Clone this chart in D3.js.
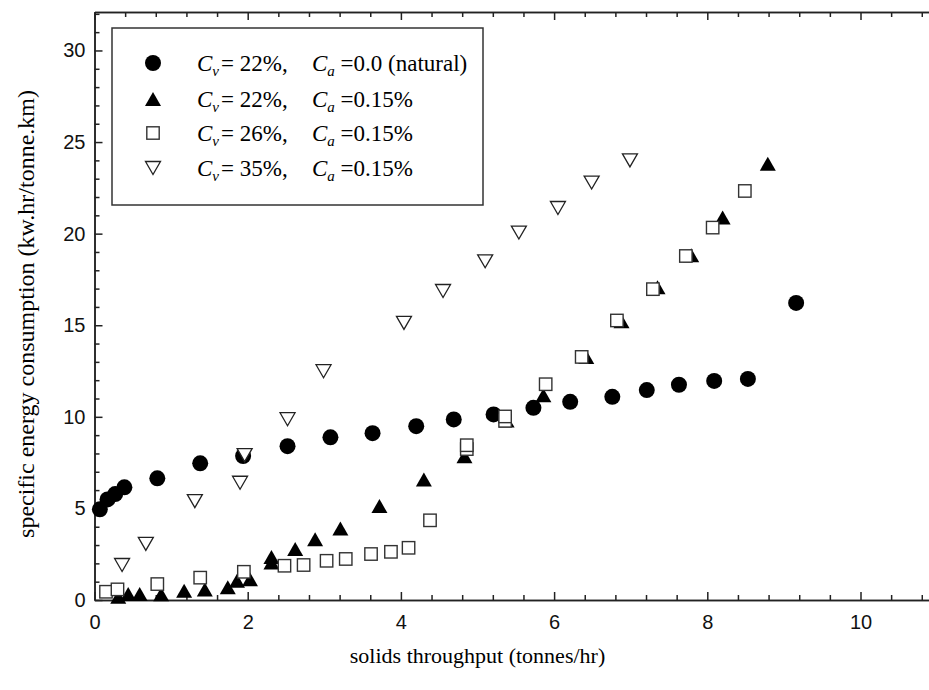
<!DOCTYPE html>
<html>
<head>
<meta charset="utf-8">
<script src="https://cdn.jsdelivr.net/npm/d3@7"></script>
<style>
  body { margin: 0; background: #fff; }
  svg { display: block; }
  .tick text { font-family: "Liberation Sans", Arial, sans-serif; font-size: 20px; fill: #111; }
  .axis path, .axis line { stroke: #222; stroke-width: 1.5; }
</style>
</head>
<body>
<div id="chart"></div>
<script>
// solids throughput (tonnes/hr) vs specific energy consumption (kw.hr/tonne.km)
const cv22Natural = [
    [0.07, 4.95], [0.17, 5.49], [0.27, 5.78], [0.39, 6.15], [0.82, 6.64],
    [1.38, 7.46], [1.94, 7.86], [2.52, 8.40], [3.08, 8.88], [3.63, 9.11],
    [4.20, 9.49], [4.69, 9.86], [5.21, 10.13], [5.73, 10.49], [6.21, 10.82],
    [6.76, 11.09], [7.21, 11.46], [7.63, 11.75], [8.09, 11.96], [8.53, 12.07],
    [9.16, 16.22]
];
const cv22Ca015 = [
    [0.31, 0.18], [0.44, 0.33], [0.59, 0.33], [0.87, 0.31], [1.17, 0.51],
    [1.44, 0.58], [1.74, 0.69], [1.86, 1.05], [2.03, 1.13], [2.31, 2.05],
    [2.31, 2.35], [2.62, 2.78], [2.88, 3.31], [3.21, 3.91], [3.72, 5.13],
    [4.30, 6.58], [4.83, 7.85], [5.38, 9.80], [5.86, 11.18], [6.42, 13.26],
    [6.88, 15.22], [7.35, 17.08], [7.79, 18.82], [8.20, 20.88], [8.79, 23.82]
];
const cv26Ca015 = [
    [0.15, 0.45], [0.30, 0.58], [0.82, 0.87], [1.38, 1.22], [1.95, 1.54],
    [2.48, 1.87], [2.73, 1.91], [3.03, 2.14], [3.28, 2.24], [3.61, 2.51],
    [3.87, 2.63], [4.10, 2.85], [4.38, 4.35], [4.86, 8.24], [4.86, 8.45],
    [5.36, 9.78], [5.36, 10.02], [5.89, 11.78], [6.36, 13.27], [6.82, 15.26],
    [7.29, 16.97], [7.72, 18.78], [8.07, 20.33], [8.49, 22.33]
];
const cv35Ca015 = [
    [0.36, 1.91], [0.67, 3.06], [1.31, 5.40], [1.90, 6.40], [1.96, 7.91],
    [2.52, 9.87], [2.99, 12.49], [4.04, 15.13], [4.55, 16.87], [5.10, 18.49],
    [5.54, 20.06], [6.05, 21.40], [6.49, 22.79], [6.99, 24.00]
];

const xMajor = [0, 2, 4, 6, 8, 10];
const yMajor = [0, 5, 10, 15, 20, 25, 30];
const legendCv = ["22%", "22%", "26%", "35%"];
const legendCa = ["0.0 (natural)", "0.15%", "0.15%", "0.15%"];

const width = 929, height = 690;
const x = d3.scaleLinear().domain([0, 11]).range([94.5, 937.1]);
const y = d3.scaleLinear().domain([0, 32.1]).range([600, 12]);

const svg = d3.select("#chart").append("svg")
    .attr("width", width)
    .attr("height", height);

const xMinor = d3.range(0, 11, 0.4).filter(v => Math.abs(v / 2 - Math.round(v / 2)) > 1e-6);
const yMinor = d3.range(0, 32.1, 1).filter(v => v % 5 !== 0);

// minor ticks first, major with labels on top
const axes = [
    [d3.axisBottom(x), y(0), true],
    [d3.axisTop(x), y(32.1), false]
];
axes.forEach(([ax, ty, labels]) => {
    svg.append("g").attr("class", "axis").attr("transform", `translate(0,${ty})`)
        .call(ax.tickValues(xMinor).tickSizeInner(-5).tickSizeOuter(0).tickFormat(""));
    svg.append("g").attr("class", "axis").attr("transform", `translate(0,${ty})`)
        .call(ax.tickValues(xMajor).tickSizeInner(-8).tickSizeOuter(0).tickPadding(15)
            .tickFormat(labels ? d3.format("d") : ""));
});
const yAxes = [
    [d3.axisLeft(y), x(0), true],
    [d3.axisRight(y), x(11), false]
];
yAxes.forEach(([ax, tx, labels]) => {
    svg.append("g").attr("class", "axis").attr("transform", `translate(${tx},0)`)
        .call(ax.tickValues(yMinor).tickSizeInner(-5).tickSizeOuter(0).tickFormat(""));
    svg.append("g").attr("class", "axis").attr("transform", `translate(${tx},0)`)
        .call(ax.tickValues(yMajor).tickSizeInner(-8).tickSizeOuter(0).tickPadding(9)
            .tickFormat(labels ? d3.format("d") : ""));
});

// axis titles
svg.append("text")
    .attr("x", x(5)).attr("y", 663)
    .attr("text-anchor", "middle")
    .style("font-family", "'Liberation Serif', 'Times New Roman', serif")
    .style("font-size", "22px")
    .text("solids throughput (tonnes/hr)");
svg.append("text")
    .attr("transform", "translate(34,314) rotate(-90)")
    .attr("text-anchor", "middle")
    .style("font-family", "'Liberation Serif', 'Times New Roman', serif")
    .style("font-size", "24px")
    .text("specific energy consumption (kw.hr/tonne.km)");

// marker shapes
const triUp = "M-8,7L8,7L0,-7Z";
const triDown = "M-7.5,-6.5L7.5,-6.5L0,6.5Z";

const marks = svg.append("g");
marks.selectAll(".nat").data(cv22Natural).join("circle")
    .attr("class", "nat")
    .attr("cx", d => x(d[0])).attr("cy", d => y(d[1]))
    .attr("r", 8).attr("fill", "#000");
marks.selectAll(".up").data(cv22Ca015).join("path")
    .attr("class", "up")
    .attr("d", triUp)
    .attr("transform", d => `translate(${x(d[0])},${y(d[1])})`)
    .attr("fill", "#000");
marks.selectAll(".sq").data(cv26Ca015).join("rect")
    .attr("class", "sq")
    .attr("x", d => x(d[0]) - 6.2).attr("y", d => y(d[1]) - 6.2)
    .attr("width", 12.4).attr("height", 12.4)
    .attr("fill", "#fff").attr("stroke", "#333").attr("stroke-width", 1.4);
marks.selectAll(".dn").data(cv35Ca015).join("path")
    .attr("class", "dn")
    .attr("d", triDown)
    .attr("transform", d => `translate(${x(d[0])},${y(d[1])})`)
    .attr("fill", "#fff").attr("stroke", "#222").attr("stroke-width", 1.3);

// legend
const legend = svg.append("g");
legend.append("rect")
    .attr("x", 112).attr("y", 28).attr("width", 371).attr("height", 177)
    .attr("fill", "#fff").attr("stroke", "#333").attr("stroke-width", 1.5);

const rowY = [63, 99, 133, 168];
const symX = 153;
legend.append("circle").attr("cx", symX).attr("cy", rowY[0]).attr("r", 8).attr("fill", "#000");
legend.append("path").attr("d", triUp).attr("transform", `translate(${symX},${rowY[1]})`).attr("fill", "#000");
legend.append("rect").attr("x", symX - 6.2).attr("y", rowY[2] - 6.2).attr("width", 12.4).attr("height", 12.4)
    .attr("fill", "#fff").attr("stroke", "#333").attr("stroke-width", 1.4);
legend.append("path").attr("d", triDown).attr("transform", `translate(${symX},${rowY[3]})`)
    .attr("fill", "#fff").attr("stroke", "#222").attr("stroke-width", 1.3);

rowY.forEach((ry, i) => {
    const t = legend.append("text")
        .attr("x", 197).attr("y", ry + 8)
        .style("font-family", "'Liberation Serif', 'Times New Roman', serif")
        .style("font-size", "23px");
    t.append("tspan").style("font-style", "italic").text("C");
    t.append("tspan").style("font-style", "italic").style("font-size", "15px").attr("dy", 5).text("v");
    t.append("tspan").attr("dy", -5).attr("dx", 2).text("= " + legendCv[i] + ",");
    t.append("tspan").attr("x", 312).style("font-style", "italic").text("C");
    t.append("tspan").style("font-style", "italic").style("font-size", "15px").attr("dy", 5).text("a");
    t.append("tspan").attr("dy", -5).text(" =" + legendCa[i]);
});
</script>
</body>
</html>
